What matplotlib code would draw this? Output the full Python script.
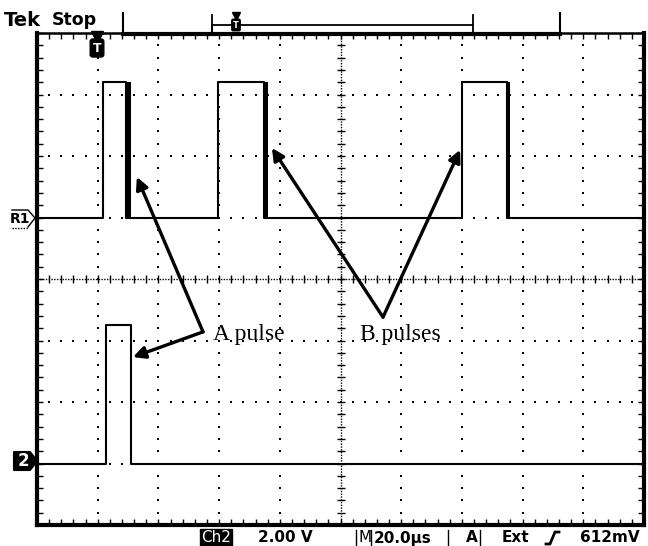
import numpy as np
import matplotlib.pyplot as plt
from matplotlib.patches import Polygon

# scope settings (status line)
t_per_div = 20.0      # us/div
v_per_div = 2.0       # V/div
t_start, t_end = -20.0, 180.0

# R1 reference trace: pulse edges in us, levels in V
r1_rise = [1.7, 39.6, 119.9]
r1_fall = [9.3, 54.8, 134.9]
r1_fall_end = [11.0, 56.1, 135.8]   # falling edges are smeared
r1_low, r1_high = 0.0, 4.4
r1_offset = 1.0                      # divisions

# channel 2 trace
ch2_rise = [2.6]
ch2_fall = [10.9]
ch2_low, ch2_high = 0.0, 4.5
ch2_offset = -3.0

status = ['2.00 V', 'M', '20.0\u00b5s', 'A', 'Ext', '612mV']


def pulse_trace(rise, fall, low, high):
    t = [t_start]
    v = [low]
    for r, f in zip(rise, fall):
        t += [r, r, f, f]
        v += [low, high, high, low]
    t.append(t_end)
    v.append(low)
    return np.array(t), np.array(v)


fig = plt.figure(figsize=(6.48, 5.46), dpi=100)
ax = fig.add_axes([37 / 648, 21 / 546, 607 / 648, 492 / 546])
ax.set_xlim(t_start, t_end)
ax.set_ylim(-4, 4)

# graticule
ydots = np.arange(-4, 4.001, 0.2)
xdots = np.arange(t_start, t_end + 0.01, t_per_div / 5)
for tx in np.arange(t_start + t_per_div, t_end, t_per_div):
    if abs(tx - 80) < 1e-6:
        continue
    ax.plot(np.full_like(ydots, tx), ydots, ls='none', marker='s', ms=1.7, mew=0, color='k', zorder=1)
for yy in range(-3, 4):
    if yy == 0:
        continue
    ax.plot(xdots, np.full_like(xdots, yy), ls='none', marker='s', ms=1.7, mew=0, color='k', zorder=1)
# centre cross
ax.plot([80, 80], [-4, 4], color='k', lw=1, ls=(0, (1, 1)), zorder=1)
ax.plot([t_start, t_end], [0, 0], color='k', lw=1, ls=(0, (1, 1)), zorder=1)
ax.plot(np.full_like(ydots, 80), ydots, ls='none', marker='_', ms=6, mew=1, color='k', zorder=1)
ax.plot(xdots, np.zeros_like(xdots), ls='none', marker='|', ms=6, mew=1, color='k', zorder=1)

ax.set_xticks(xdots)
ax.set_yticks(ydots)
ax.tick_params(direction='in', length=4, width=1, top=True, right=True,
               labelbottom=False, labelleft=False)
for side in ['left', 'right', 'bottom']:
    ax.spines[side].set_linewidth(3)
ax.spines['top'].set_linewidth(1.8)

# traces
t1, v1 = pulse_trace(r1_rise, r1_fall, r1_low, r1_high)
ax.plot(t1, r1_offset + v1 / v_per_div, color='k', lw=1.5, zorder=3)
for f0, f1 in zip(r1_fall, r1_fall_end):
    ax.fill_betweenx([r1_offset + r1_low / v_per_div, r1_offset + r1_high / v_per_div],
                     f0, f1, color='k', lw=0, zorder=3)
t2, v2 = pulse_trace(ch2_rise, ch2_fall, ch2_low, ch2_high)
ax.plot(t2, ch2_offset + v2 / v_per_div, color='k', lw=1.5, zorder=3)

# annotations
arrow = dict(arrowstyle='-|>', lw=2.4, color='k', mutation_scale=18, shrinkA=0, shrinkB=0)
ax.annotate('', xy=(12.9, 1.66), xytext=(34.7, -0.86), arrowprops=arrow)
ax.annotate('', xy=(11.6, -1.27), xytext=(34.7, -0.86), arrowprops=arrow)
ax.annotate('', xy=(57.4, 2.13), xytext=(94.0, -0.62), arrowprops=arrow)
ax.annotate('', xy=(119.4, 2.10), xytext=(94.0, -0.62), arrowprops=arrow)
ax.text(38.0, -0.91, 'A pulse', family='Liberation Serif', fontsize=17, va='center', ha='left')
ax.text(86.4, -0.91, 'B pulses', family='Liberation Serif', fontsize=17, va='center', ha='left')

# overlay in pixel coordinates for the scope furniture
ov = fig.add_axes([0, 0, 1, 1], zorder=5)
ov.set_xlim(0, 648)
ov.set_ylim(546, 0)
ov.axis('off')

ov.text(4, 21, 'Tek', fontsize=14, fontweight='bold', va='center', ha='left')
ov.text(52, 20, 'Stop', fontsize=12.5, fontweight='bold', va='center', ha='left')
ov.plot([123, 123], [13, 34], color='k', lw=1.5)
ov.plot([560, 560], [13, 34], color='k', lw=1.5)
ov.plot([123, 560], [34, 34], color='k', lw=3)
ov.plot([212, 212, 212, 473, 473], [15, 35, 25, 25, 15], color='k', lw=1.3)
ov.plot([473, 473], [25, 35], color='k', lw=1.3)
ov.plot([236], [16], marker='v', ms=6, color='k')
ov.text(236, 25, 'T', fontsize=6, color='white', fontweight='bold', ha='center', va='center',
        bbox=dict(boxstyle='round,pad=0.15', fc='k', ec='k'))

# trigger position marker
ov.plot([97], [37], marker='v', ms=9, color='k')
ov.text(97, 48, 'T', fontsize=9, color='white', fontweight='bold', ha='center', va='center',
        bbox=dict(boxstyle='round,pad=0.2', fc='k', ec='k'))

# R1 and channel 2 ground markers
ov.plot([12, 28, 35, 28], [210, 210, 218, 227], color='k', lw=1)
ov.plot([12, 28], [228, 228], color='k', lw=1, ls=(0, (1, 1)))
ov.text(20, 219, 'R1', fontsize=10, fontweight='bold', ha='center', va='center')
ov.add_patch(Polygon([[14, 452], [30, 452], [37, 461], [30, 470], [14, 470]],
                     closed=True, fc='k', ec='k', lw=1.5, joinstyle='round'))
ov.text(23, 461.5, '2', fontsize=12, fontweight='bold', color='white', ha='center', va='center')

# status line
ys = 538
ov.text(216, ys, 'Ch2', fontsize=11, color='white', ha='center', va='center',
        bbox=dict(boxstyle='square,pad=0.1', fc='k', ec='k'))
ov.text(258, ys, status[0], fontsize=11, fontweight='bold', ha='left', va='center')
ov.plot([356, 356], [530, 546], color='k', lw=1)
ov.text(358, ys, status[1], fontsize=11, ha='left', va='center')
ov.plot([371, 371], [530, 546], color='k', lw=1)
ov.text(374, ys, status[2], fontsize=11, fontweight='bold', ha='left', va='center')
ov.plot([448, 448], [530, 546], color='k', lw=1)
ov.text(466, ys, status[3], fontsize=11, fontweight='bold', ha='left', va='center')
ov.plot([480, 480], [530, 546], color='k', lw=1)
ov.text(502, ys, status[4], fontsize=11, fontweight='bold', ha='left', va='center')
ov.plot([546, 550, 555, 559], [544, 544, 532, 532], color='k', lw=2)
ov.text(580, ys, status[5], fontsize=11, fontweight='bold', ha='left', va='center')

fig.savefig('out.png', dpi=100)
